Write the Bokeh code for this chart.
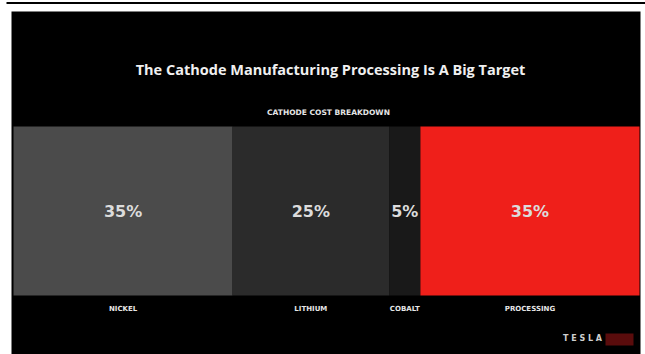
from bokeh.plotting import figure
from bokeh.models import Range1d, ColumnDataSource, Label
from bokeh.core.properties import value
from bokeh.embed import file_html
from bokeh.resources import INLINE

# ---- data ----
categories = ["NICKEL", "LITHIUM", "COBALT", "PROCESSING"]
shares = [35, 25, 5, 35]
bar_colors = ["#4b4b4b", "#2b2b2b", "#191919", "#ef1f1a"]
title_text = "The Cathode Manufacturing Processing Is A Big Target"
subtitle_text = "CATHODE COST BREAKDOWN"

lefts, rights = [], []
acc = 0
for s in shares:
    lefts.append(acc)
    acc += s
    rights.append(acc)
mids = [(a + b) / 2 for a, b in zip(lefts, rights)]

src = ColumnDataSource(dict(
    left=lefts, right=rights, mid=mids, color=bar_colors,
    pct=[f"{s}%" for s in shares], cat=categories,
))

W, H = 645, 354
X0, X1 = 13.0, 639.0           # pixel span of the 0..100% bar
K = (X1 - X0) / 100.0
def px(x):                      # pixel -> percent axis
    return (x - X0) / K

p = figure(width=W, height=H, x_range=Range1d(px(0), px(W)), y_range=Range1d(H, 0),
           output_backend="svg", toolbar_location=None, min_border=0,
           x_axis_type=None, y_axis_type=None,
           background_fill_color="white", border_fill_color="white",
           outline_line_color=None)
p.grid.visible = False

# slide background and top rule
p.quad(left=[px(11)], right=[px(640)], top=[11], bottom=[H], fill_color="black", line_color=None)
p.segment(x0=[px(6)], x1=[px(W)], y0=[2.5], y1=[2.5], line_color="black", line_width=2)

BAR_TOP, BAR_BOTTOM = 126, 295
p.quad(left="left", right="right", top=BAR_TOP, bottom=BAR_BOTTOM, source=src,
       fill_color="color", line_color=None)

p.text(x="mid", y=211, text="pct", source=src, text_font=value("DejaVu Sans"),
       text_font_style="bold", text_font_size="16px", text_color="#dcdcdc",
       text_align="center", text_baseline="middle")

p.text(x="mid", y=308, text="cat", source=src, text_font=value("DejaVu Sans"),
       text_font_style="bold", text_font_size="7px", text_color="#e6e6e6",
       text_align="center", text_baseline="middle")

p.add_layout(Label(x=px(330), y=69, text=title_text, text_font="Open Sans", text_font_style="bold",
                   text_font_size="14.5px", text_color="#f0f0f0",
                   text_align="center", text_baseline="middle"))
p.add_layout(Label(x=px(328), y=112, text=subtitle_text, text_font="DejaVu Sans", text_font_style="bold",
                   text_font_size="7.5px", text_color="#e6e6e6",
                   text_align="center", text_baseline="middle"))

# Tesla mark
p.add_layout(Label(x=px(582), y=338, text="T E S L A", text_font="DejaVu Sans", text_font_style="bold",
                   text_font_size="8px", text_color="#cfcfcf",
                   text_align="center", text_baseline="middle"))
p.quad(left=[px(605)], right=[px(633)], top=[333], bottom=[345], fill_color="#5a0c0c", line_color=None)

open("out.html", "w").write(file_html(p, INLINE))
